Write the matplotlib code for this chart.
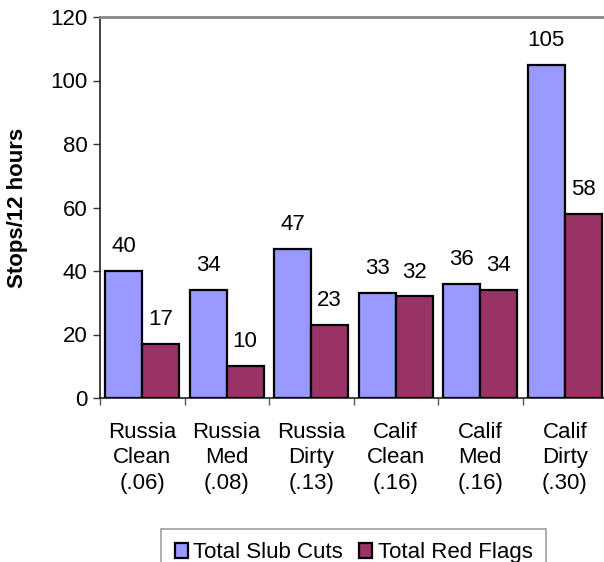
import matplotlib
matplotlib.use("Agg")
import matplotlib.pyplot as plt
import numpy as np

plt.rcParams['font.family'] = ['Liberation Sans', 'DejaVu Sans']

categories = ["Russia\nClean\n(.06)", "Russia\nMed\n(.08)", "Russia\nDirty\n(.13)",
              "Calif\nClean\n(.16)", "Calif\nMed\n(.16)", "Calif\nDirty\n(.30)"]
slub_cuts = [40, 34, 47, 33, 36, 105]
red_flags = [17, 10, 23, 32, 34, 58]
series_names = ["Total Slub Cuts", "Total Red Flags"]
yticks = [0, 20, 40, 60, 80, 100, 120]

FS = 16
fig = plt.figure(figsize=(6.04, 5.62), dpi=100)
ax = fig.add_axes([100/604, 1-398/562, 507/604, (398-17)/562])

x = np.arange(len(categories)) + 0.5
w = 0.435
b1 = ax.bar(x - w/2, slub_cuts, width=w, color="#9999FF", edgecolor="black", linewidth=1.6, label=series_names[0], zorder=3)
b2 = ax.bar(x + w/2, red_flags, width=w, color="#993366", edgecolor="black", linewidth=1.6, label=series_names[1], zorder=3)

for bars, vals in ((b1, slub_cuts), (b2, red_flags)):
    for r, v in zip(bars, vals):
        ax.annotate(str(v), (r.get_x() + r.get_width()/2, v), xytext=(0, 17.5),
                    textcoords="offset points", ha="center", va="center", fontsize=FS)

ax.set_xlim(0, len(categories))
ax.set_ylim(0, 120)
ax.set_yticks(yticks)
ax.tick_params(axis='y', labelsize=FS, length=5, width=1, color="#333333", pad=4)
ax.set_xticks(x)
ax.set_xticklabels(categories, fontsize=FS, linespacing=1.3)
ax.tick_params(axis='x', which='major', length=0, pad=17)
ax.set_xticks(np.arange(len(categories) + 1), minor=True)
ax.tick_params(axis='x', which='minor', length=5, width=1, color="#555555")

for s in ("top", "right"):
    ax.spines[s].set_color("#888888")
    ax.spines[s].set_linewidth(2)
ax.spines["left"].set_color("#222222")
ax.spines["bottom"].set_color("#222222")
ax.spines["left"].set_linewidth(1.2)
ax.spines["bottom"].set_linewidth(1.2)

ax.set_ylabel("Stops/12 hours", fontsize=FS, fontweight="bold")
ax.yaxis.set_label_coords(-0.142, 0.5)

leg = fig.legend(handles=[b1, b2], loc="upper center", bbox_to_anchor=(353.5/604, 1-529/562),
                 ncol=2, fontsize=FS, frameon=True, fancybox=False, handlelength=0.6,
                 handleheight=0.6, handletextpad=0.25, columnspacing=0.7, borderpad=0.6,
                 borderaxespad=0)
leg.get_frame().set_edgecolor("#888888")
leg.get_frame().set_linewidth(1.2)

fig.savefig("out.png", dpi=100)
